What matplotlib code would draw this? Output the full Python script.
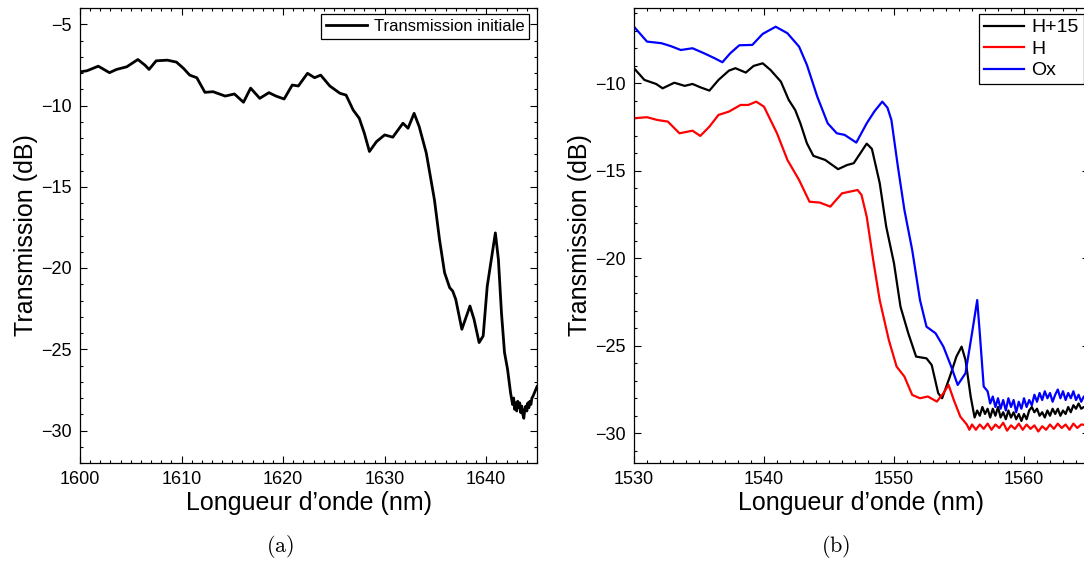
import matplotlib
matplotlib.use("Agg")
import matplotlib.pyplot as plt
from matplotlib.ticker import MultipleLocator

plt.rcParams['font.family'] = ['Liberation Sans', 'DejaVu Sans']
plt.rcParams['mathtext.fontset'] = 'cm'

# (a) transmission initiale
wl_a = [1600.0, 1600.7, 1601.8, 1602.9, 1603.6, 1604.6, 1605.7, 1606.4, 1606.8, 1607.5,
        1608.6, 1609.5, 1610.2, 1610.8, 1611.5, 1612.3, 1613.1, 1614.3, 1615.2, 1616.1,
        1616.8, 1617.7, 1618.6, 1619.3, 1620.1, 1620.9, 1621.5, 1622.4, 1623.1, 1623.7,
        1624.6, 1625.6, 1626.2, 1626.9, 1627.5, 1628.0, 1628.5, 1629.2, 1630.0, 1630.8,
        1631.8, 1632.3, 1632.9, 1633.4, 1634.1, 1634.9, 1635.4, 1635.9, 1636.4, 1636.7,
        1637.0, 1637.6, 1638.4, 1638.8, 1639.3, 1639.7, 1640.1, 1640.9, 1641.2, 1641.5,
        1641.8, 1642.1, 1642.4, 1642.6, 1642.7, 1642.8, 1642.9, 1643.0, 1643.1, 1643.2,
        1643.3, 1643.4, 1643.5, 1643.6, 1643.7, 1643.8, 1643.9, 1644.0, 1644.1, 1644.2,
        1644.3, 1644.4, 1644.5, 1644.6, 1644.8, 1645.0]
tr_a = [-7.93, -7.86, -7.58, -7.98, -7.78, -7.62, -7.17, -7.52, -7.78, -7.25,
        -7.21, -7.33, -7.72, -8.13, -8.29, -9.19, -9.15, -9.42, -9.29, -9.80,
        -8.93, -9.56, -9.21, -9.42, -9.60, -8.74, -8.80, -8.02, -8.29, -8.13,
        -8.80, -9.25, -9.36, -10.28, -10.79, -11.71, -12.83, -12.22, -11.81, -11.95,
        -11.09, -11.40, -10.48, -11.30, -12.93, -15.80, -18.25, -20.29, -21.21, -21.42,
        -21.93, -23.77, -22.34, -23.16, -24.59, -24.18, -21.12, -17.84, -19.48, -22.75,
        -25.20, -26.23, -27.70, -28.40, -28.00, -28.70, -28.30, -28.80, -28.20, -28.60,
        -28.30, -28.90, -28.50, -29.00, -29.25, -28.70, -28.50, -28.80, -28.30, -28.60,
        -28.20, -28.40, -28.00, -27.90, -27.60, -27.30]

# (b) H+15, H, Ox
wl_h15 = [1530.0, 1530.8, 1531.7, 1532.2, 1533.1, 1533.9, 1534.5, 1535.1, 1535.8, 1536.5,
          1537.3, 1537.8, 1538.6, 1539.2, 1539.9, 1540.5, 1541.3, 1541.9, 1542.4, 1542.8,
          1543.3, 1543.8, 1544.7, 1545.7, 1546.4, 1546.9, 1547.5, 1547.9, 1548.3, 1548.9,
          1549.4, 1550.0, 1550.5, 1551.1, 1551.7, 1552.5, 1552.9, 1553.4, 1553.7, 1554.3,
          1554.8, 1555.2, 1555.5, 1555.9, 1556.2, 1556.4, 1556.6, 1556.8, 1557.0, 1557.2,
          1557.4, 1557.6, 1557.8, 1558.0, 1558.2, 1558.4, 1558.6, 1558.8, 1559.0, 1559.2,
          1559.4, 1559.6, 1559.8, 1560.0, 1560.2, 1560.4, 1560.6, 1560.8, 1561.0, 1561.2,
          1561.4, 1561.6, 1561.8, 1562.0, 1562.2, 1562.4, 1562.6, 1562.8, 1563.0, 1563.2,
          1563.4, 1563.6, 1563.8, 1564.0, 1564.2, 1564.4, 1564.6, 1565.0]
tr_h15 = [-9.14, -9.81, -10.04, -10.29, -9.97, -10.15, -10.04, -10.23, -10.42, -9.81,
          -9.28, -9.14, -9.39, -9.01, -8.86, -9.24, -9.91, -10.95, -11.53, -12.29,
          -13.43, -14.15, -14.38, -14.91, -14.67, -14.57, -13.90, -13.45, -13.75, -15.70,
          -18.19, -20.29, -22.77, -24.29, -25.62, -25.72, -26.10, -27.71, -28.00, -26.76,
          -25.62, -25.05, -25.81, -27.91, -29.10, -28.70, -29.00, -28.50, -28.90, -28.60,
          -29.10, -28.60, -29.00, -28.50, -29.10, -28.80, -29.20, -28.70, -29.10, -28.80,
          -29.20, -28.90, -29.30, -28.90, -29.20, -28.70, -28.50, -28.80, -28.60, -29.00,
          -28.80, -29.10, -28.70, -29.00, -28.60, -28.90, -28.60, -29.00, -28.70, -28.90,
          -28.50, -28.80, -28.40, -28.60, -28.30, -28.60, -28.50, -28.50]

wl_h = [1530.0, 1531.0, 1531.8, 1532.6, 1533.5, 1534.5, 1535.1, 1535.8, 1536.5, 1537.3,
        1538.2, 1538.8, 1539.4, 1540.0, 1541.0, 1541.8, 1542.7, 1543.5, 1544.3, 1545.1,
        1546.0, 1547.2, 1547.5, 1547.9, 1548.4, 1548.9, 1549.6, 1550.2, 1550.8, 1551.4,
        1552.0, 1552.6, 1553.3, 1553.8, 1554.2, 1554.6, 1555.1, 1555.6, 1555.8, 1556.0,
        1556.3, 1556.6, 1556.9, 1557.2, 1557.5, 1557.8, 1558.1, 1558.4, 1558.7, 1559.0,
        1559.3, 1559.6, 1559.9, 1560.2, 1560.5, 1560.8, 1561.1, 1561.4, 1561.7, 1562.0,
        1562.3, 1562.6, 1562.9, 1563.2, 1563.5, 1563.8, 1564.1, 1564.4, 1565.0]
tr_h = [-12.00, -11.94, -12.10, -12.19, -12.86, -12.71, -13.01, -12.48, -11.81, -11.62,
        -11.24, -11.24, -11.05, -11.34, -12.86, -14.38, -15.53, -16.77, -16.82, -17.05,
        -16.29, -16.10, -16.38, -17.62, -20.10, -22.39, -24.67, -26.19, -26.76, -27.81,
        -28.00, -27.90, -28.19, -27.71, -27.24, -28.10, -29.05, -29.50, -29.80, -29.50,
        -29.80, -29.50, -29.75, -29.45, -29.80, -29.50, -29.70, -29.40, -29.85, -29.55,
        -29.75, -29.45, -29.80, -29.50, -29.75, -29.55, -29.90, -29.60, -29.80, -29.50,
        -29.75, -29.45, -29.70, -29.50, -29.80, -29.45, -29.70, -29.50, -29.55]

wl_ox = [1530.0, 1531.0, 1532.1, 1532.8, 1533.6, 1534.5, 1535.4, 1536.2, 1536.8, 1537.4,
         1538.1, 1539.1, 1539.9, 1540.9, 1541.8, 1542.7, 1543.3, 1544.1, 1544.9, 1545.6,
         1546.2, 1547.1, 1547.9, 1548.5, 1549.1, 1549.5, 1549.8, 1550.3, 1550.8, 1551.4,
         1552.0, 1552.5, 1553.2, 1553.8, 1554.4, 1554.9, 1555.5, 1556.0, 1556.4, 1556.6,
         1556.9, 1557.2, 1557.4, 1557.6, 1557.8, 1558.0, 1558.2, 1558.4, 1558.6, 1558.8,
         1559.0, 1559.2, 1559.4, 1559.6, 1559.8, 1560.0, 1560.2, 1560.4, 1560.6, 1560.8,
         1561.0, 1561.2, 1561.4, 1561.6, 1561.8, 1562.0, 1562.2, 1562.4, 1562.6, 1562.8,
         1563.0, 1563.2, 1563.4, 1563.6, 1563.8, 1564.0, 1564.2, 1564.4, 1564.6, 1565.0]
tr_ox = [-6.77, -7.62, -7.71, -7.87, -8.10, -8.00, -8.29, -8.57, -8.80, -8.29,
         -7.83, -7.81, -7.18, -6.77, -7.14, -7.91, -8.95, -10.77, -12.29, -12.86,
         -12.95, -13.39, -12.29, -11.60, -11.05, -11.40, -12.10, -14.77, -17.24, -19.53,
         -22.39, -23.91, -24.29, -25.05, -26.19, -27.24, -26.57, -24.29, -22.39, -24.29,
         -27.33, -27.60, -28.30, -27.90, -28.50, -28.00, -28.60, -28.10, -28.70, -28.00,
         -28.50, -28.10, -28.80, -28.20, -28.60, -28.00, -28.50, -28.10, -28.40, -27.80,
         -28.20, -27.70, -28.10, -27.60, -28.00, -27.70, -28.20, -27.80, -27.50, -28.00,
         -27.60, -28.10, -27.70, -28.00, -27.60, -28.10, -27.80, -28.20, -27.90, -28.10]

W, H = 1084, 563
fig = plt.figure(figsize=(W / 100, H / 100), dpi=100)
ax1 = fig.add_axes([80 / W, (H - 463) / H, (537 - 80) / W, 455 / H])
ax2 = fig.add_axes([634 / W, (H - 463) / H, (1089 - 634) / W, 455 / H])


def style(ax):
    ax.tick_params(which='both', direction='in', top=True, right=True, labelsize=13,
                   width=0.8, pad=6)
    ax.tick_params(which='major', length=5)
    ax.tick_params(which='minor', length=2.5)
    ax.xaxis.set_major_locator(MultipleLocator(10))
    ax.xaxis.set_minor_locator(MultipleLocator(1))
    ax.yaxis.set_major_locator(MultipleLocator(5))
    ax.yaxis.set_minor_locator(MultipleLocator(1))
    for s in ax.spines.values():
        s.set_linewidth(0.9)
    ax.set_xlabel("Longueur d\u2019onde (nm)", fontsize=18, labelpad=2)
    ax.set_ylabel("Transmission (dB)", fontsize=18, labelpad=2)


ax1.plot(wl_a, tr_a, color='black', lw=2.0, label='Transmission initiale')
ax1.set_xlim(1600, 1645)
ax1.set_ylim(-32, -4)
style(ax1)
leg1 = ax1.legend(loc='upper right', bbox_to_anchor=(0.983, 0.987), borderaxespad=0,
                  fontsize=12, fancybox=False, framealpha=1, handlelength=2.45,
                  handletextpad=0.4, borderpad=0.3)
leg1.get_frame().set_edgecolor('black')
leg1.get_frame().set_linewidth(0.9)

ax2.plot(wl_h15, tr_h15, color='black', lw=1.6, label='H+15')
ax2.plot(wl_h, tr_h, color='red', lw=1.6, label='H')
ax2.plot(wl_ox, tr_ox, color='blue', lw=1.6, label='Ox')
ax2.set_xlim(1530, 1565)
ax2.set_ylim(-31.7, -5.7)
style(ax2)
leg2 = ax2.legend(loc='upper right', bbox_to_anchor=(0.988, 0.987), borderaxespad=0,
                  fontsize=14, fancybox=False, framealpha=1, handlelength=2.1,
                  handletextpad=0.35, borderpad=0.25, labelspacing=0.2)
leg2.get_frame().set_edgecolor('black')
leg2.get_frame().set_linewidth(0.9)

fig.text(280 / W, 1 - 547 / H, r'$\mathrm{(a)}$', ha='center', va='center', fontsize=16)
fig.text(836 / W, 1 - 547 / H, r'$\mathrm{(b)}$', ha='center', va='center', fontsize=16)

fig.savefig("out.png", dpi=100)
